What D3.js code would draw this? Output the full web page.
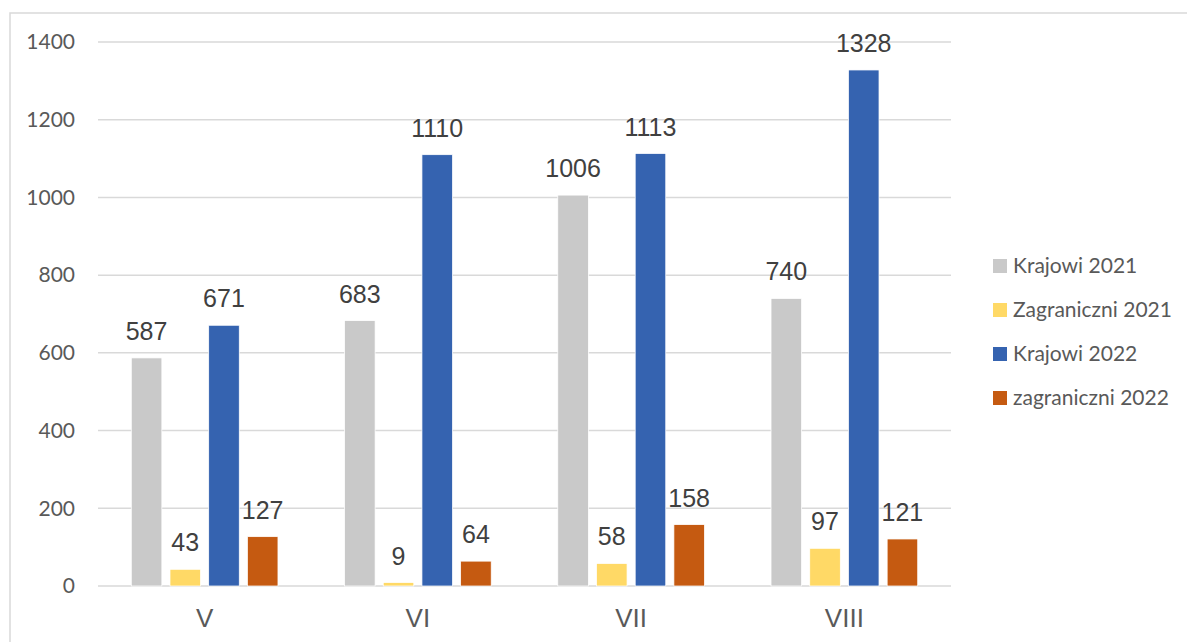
<!DOCTYPE html>
<html>
<head>
<meta charset="utf-8">
<script src="https://cdn.jsdelivr.net/npm/d3@7"></script>
<style>
  body { margin: 0; background: #fff; }
</style>
</head>
<body>
<script>
const width = 1187
const height = 642

// data
const months = ["V", "VI", "VII", "VIII"];
const seriesNames = ["Krajowi 2021", "Zagraniczni 2021", "Krajowi 2022", "zagraniczni 2022"];
const krajowi2021 = [587, 683, 1006, 740];
const zagraniczni2021 = [43, 9, 58, 97];
const krajowi2022 = [671, 1110, 1113, 1328];
const zagraniczni2022 = [127, 64, 158, 121];
const yTicks = [0, 200, 400, 600, 800, 1000, 1200, 1400];

const seriesValues = [krajowi2021, zagraniczni2021, krajowi2022, zagraniczni2022];
const colors = ["#c9c9c9", "#ffd966", "#3563b0", "#c55a11"];

const svg = d3.select("body").append("svg")
    .attr("width", width)
    .attr("height", height);

// outer chart border
svg.append("rect")
    .attr("x", 10)
    .attr("y", 13)
    .attr("width", 1300)
    .attr("height", 800)
    .attr("fill", "none")
    .attr("stroke", "#d9d9d9")
    .attr("stroke-width", 1.5);

const x0 = d3.scaleBand()
    .domain(months)
    .range([98, 951]);

const x1 = d3.scaleBand()
    .domain(seriesNames)
    .range([0, x0.bandwidth()])
    .paddingInner(0.21)
    .paddingOuter(0.86);

const y = d3.scaleLinear()
    .domain([0, 1400])
    .range([586, 42]);

// gridlines
svg.append("g")
    .selectAll("line")
    .data(yTicks)
    .enter()
    .append("line")
    .attr("x1", 98)
    .attr("x2", 951)
    .attr("y1", d => y(d))
    .attr("y2", d => y(d))
    .attr("stroke", "#d9d9d9")
    .attr("stroke-width", 1.5);

// y tick labels
svg.append("g")
    .selectAll("text")
    .data(yTicks)
    .enter()
    .append("text")
    .attr("x", 75)
    .attr("y", d => y(d))
    .attr("dy", "0.35em")
    .attr("text-anchor", "end")
    .attr("font-family", "Lato, 'Open Sans', sans-serif")
    .attr("font-size", 21)
    .attr("fill", "#595959")
    .text(d => d);

// bars, one group per series
const rows = seriesNames.map((name, i) => ({
    name: name,
    color: colors[i],
    values: seriesValues[i].map((v, j) => ({ month: months[j], value: v }))
}));

const series = svg.append("g")
    .selectAll("g")
    .data(rows)
    .enter()
    .append("g");

series.selectAll("rect")
    .data(s => s.values.map(v => ({ ...v, name: s.name, color: s.color })))
    .enter()
    .append("rect")
    .attr("x", d => x0(d.month) + x1(d.name))
    .attr("y", d => y(d.value))
    .attr("width", x1.bandwidth())
    .attr("height", d => y(0) - y(d.value))
    .attr("fill", d => d.color)
    .attr("stroke", "#ffffff")
    .attr("stroke-width", 0.75);

// data labels
series.selectAll("text")
    .data(s => s.values.map(v => ({ ...v, name: s.name })))
    .enter()
    .append("text")
    .attr("x", d => x0(d.month) + x1(d.name) + x1.bandwidth() / 2)
    .attr("y", d => y(d.value) - 18)
    .attr("text-anchor", "middle")
    .attr("font-family", "'Liberation Sans', Arial, sans-serif")
    .attr("font-size", 25)
    .attr("fill", "#404040")
    .text(d => d.value);

// x labels
svg.append("g")
    .selectAll("text")
    .data(months)
    .enter()
    .append("text")
    .attr("x", d => x0(d) + x0.bandwidth() / 2)
    .attr("y", 627)
    .attr("text-anchor", "middle")
    .attr("font-family", "'Liberation Sans', Arial, sans-serif")
    .attr("font-size", 26)
    .attr("fill", "#595959")
    .text(d => d);

// legend
const legend = svg.append("g")
    .selectAll("g")
    .data(seriesNames)
    .enter()
    .append("g")
    .attr("transform", (d, i) => `translate(993, ${266 + i * 44})`);

legend.append("rect")
    .attr("x", 0)
    .attr("y", -7)
    .attr("width", 14)
    .attr("height", 14)
    .attr("fill", (d, i) => colors[i]);

legend.append("text")
    .attr("x", 20)
    .attr("y", 0)
    .attr("dy", "0.35em")
    .attr("font-family", "Lato, 'Open Sans', sans-serif")
    .attr("font-size", 21)
    .attr("fill", "#595959")
    .text(d => d);
</script>
</body>
</html>
